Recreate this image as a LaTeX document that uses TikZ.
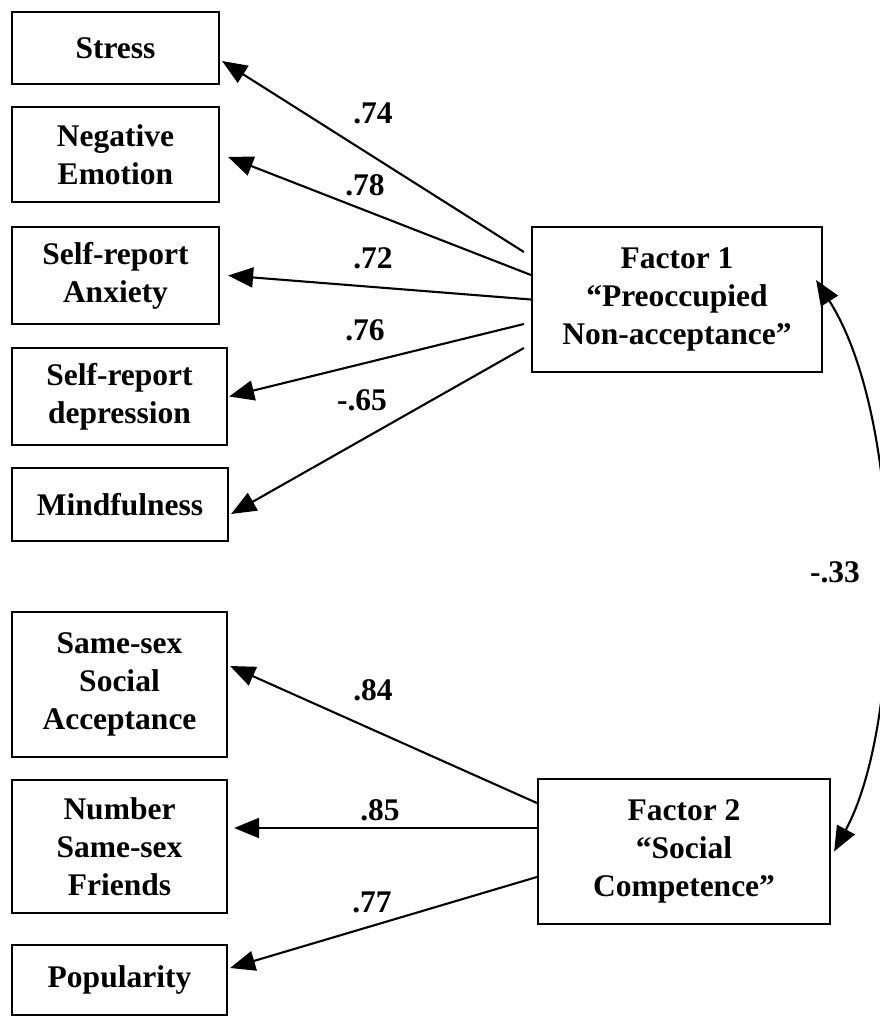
\documentclass[tikz,border=0pt]{standalone}
\usepackage{fontspec}
\setmainfont{Liberation Serif}
\usetikzlibrary{arrows.meta,calc}
\begin{document}
\begin{tikzpicture}[x=1pt,y=-1pt,
  box/.style={draw,line width=2.2pt,inner sep=0pt,align=center,font=\fontsize{31.5}{38}\selectfont\bfseries},
  lbl/.style={inner sep=0pt,font=\fontsize{31.5}{38}\selectfont\bfseries},
  arr/.style={line width=2.1pt,-{Triangle[length=25pt,width=20pt]}},
  darr/.style={line width=2.1pt,{Triangle[length=25pt,width=20pt]}-{Triangle[length=25pt,width=20pt]}}]
\useasboundingbox (0,0) rectangle (879,1017);
% left boxes
\node[box,minimum width=207pt,minimum height=72pt] (stress) at (115.5,48) {Stress};
\node[box,minimum width=207pt,minimum height=95pt] (neg) at (115.5,154.5) {Negative\\Emotion};
\node[box,minimum width=207pt,minimum height=97pt] (anx) at (115.5,275.5) {Self-report\\Anxiety};
\node[box,minimum width=215pt,minimum height=97pt] (dep) at (119.5,396.5) {Self-report\\depression};
\node[box,minimum width=216pt,minimum height=73pt] (mind) at (120,504.5) {Mindfulness};
\node[box,minimum width=215pt,minimum height=145pt] (same) at (119.5,684.5) {Same-sex\\Social\\Acceptance};
\node[box,minimum width=215pt,minimum height=133pt] (num) at (119.5,846.5) {Number\\Same-sex\\Friends};
\node[box,minimum width=215pt,minimum height=70pt] (pop) at (119.5,980) {Popularity};
% factor boxes
\node[box,minimum width=290pt,minimum height=145pt] (f1) at (677,299.5) {Factor 1\\“Preoccupied\\Non-acceptance”};
\node[box,minimum width=292pt,minimum height=145pt] (f2) at (684,851.5) {Factor 2\\“Social\\Competence”};
% start points
\coordinate (a1) at ([shift={(-7,-47.5)}]f1.west);
\coordinate (a2) at ([shift={(0,-24.5)}]f1.west);
\coordinate (a3) at ([shift={(0,0)}]f1.west);
\coordinate (a4) at ([shift={(-7,24.5)}]f1.west);
\coordinate (a5) at ([shift={(-7,48.5)}]f1.west);
\coordinate (b1) at ([shift={(0,-48.5)}]f2.west);
\coordinate (b2) at ([shift={(0,-23.5)}]f2.west);
\coordinate (b3) at ([shift={(0,25.5)}]f2.west);
% arrows
\draw[arr] (a1) -- ([shift={(2,13)}]stress.east);
\draw[arr] (a2) -- ([shift={(8,2.5)}]neg.east);
\draw[arr] (a3) -- ([shift={(8,0)}]anx.east);
\draw[arr] (a4) -- ([shift={(1,0)}]dep.east);
\draw[arr] (a5) -- ([shift={(2,9.5)}]mind.east);
\draw[arr] (b1) -- ([shift={(2,-18.5)}]same.east);
\draw[arr] (b2) -- ([shift={(6,-18.5)}]num.east);
\draw[arr] (b3) -- ([shift={(2,-12)}]pop.east);
% correlation
\draw[darr] ([shift={(-7,-19.5)}]f1.east) .. controls (905,420) and (905,720) .. ([shift={(3,0)}]f2.east);
% labels
\node[lbl] (l1) at (373,113) {.74};
\node[lbl] (l2) at (365,185) {.78};
\node[lbl] (l3) at (373,258) {.72};
\node[lbl] (l4) at (365,330) {.76};
\node[lbl] (l5) at (362,400) {-.65};
\node[lbl] (l6) at (373,690) {.84};
\node[lbl] (l7) at (380,810) {.85};
\node[lbl] (l8) at (372,902) {.77};
\node[lbl] (l9) at (835,572) {-.33};
\end{tikzpicture}
\end{document}
